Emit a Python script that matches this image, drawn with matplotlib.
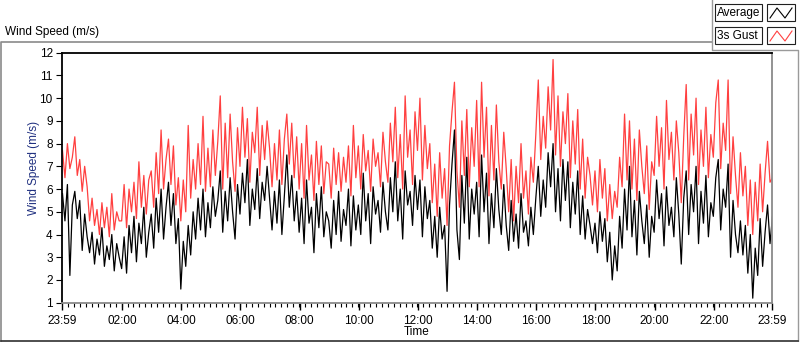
import matplotlib
matplotlib.use("Agg")
import matplotlib.pyplot as plt
import numpy as np

# wind record, one sample every 5 minutes starting at 23:59 (one row per hour)
sample_step = 5
avg_speed = [
    5.8, 4.6, 6.2, 2.2, 5.3, 5.9, 4.7, 5.5, 3.3, 4.9, 3.9, 3.2,
    4.1, 2.7, 3.8, 3.1, 4.3, 2.6, 3.5, 2.9, 4.0, 2.4, 3.6, 3.0,
    2.5, 3.9, 2.3, 4.4, 3.2, 4.8, 2.8, 4.5, 3.6, 5.2, 3.0, 4.1,
    4.9, 3.4, 5.6, 4.1, 6.0, 3.8, 5.2, 6.3, 4.4, 5.8, 3.6, 4.7,
    1.6, 3.7, 2.6, 4.4, 3.1, 5.0, 3.8, 5.6, 4.2, 6.0, 3.9, 5.4,
    4.3, 6.1, 4.8, 5.5, 6.8, 4.1, 5.9, 4.6, 6.5, 5.0, 3.8, 6.2,
    4.9, 6.7, 5.4, 7.3, 4.4, 6.0, 5.1, 6.9, 4.7, 6.3, 5.5, 7.0,
    5.6, 4.2, 5.9, 4.5, 6.4, 4.0, 5.7, 7.5, 5.2, 6.6, 4.6, 5.9,
    4.1, 5.6, 3.6, 6.4, 4.5, 5.2, 3.2, 5.8, 4.3, 6.1, 3.9, 5.0,
    4.6, 3.4, 5.5, 4.0, 5.9, 3.7, 5.1, 4.4, 6.0, 3.5, 5.7, 4.2,
    5.3, 4.0, 6.7, 4.6, 5.8, 3.6, 6.1, 4.9, 5.5, 4.1, 6.3, 5.0,
    4.2, 6.5, 5.0, 7.2, 4.6, 6.0, 3.8, 6.8, 5.3, 5.9, 4.4, 6.6,
    5.1, 6.4, 3.9, 6.1, 4.7, 5.5, 3.4, 4.8, 3.0, 5.2, 3.8, 4.4,
    1.5, 5.3, 7.1, 8.6, 4.2, 2.9, 6.6, 4.5, 7.4, 3.8, 6.0, 4.9,
    6.3, 3.9, 7.5, 5.0, 6.7, 3.6, 5.8, 4.3, 6.9, 5.1, 4.0, 6.2,
    4.4, 3.3, 5.5, 3.7, 4.9, 3.4, 5.8, 4.1, 4.6, 3.5, 5.2, 4.0,
    5.6, 7.0, 4.8, 6.4, 5.2, 7.6, 6.1, 8.0, 5.0, 6.9, 4.6, 7.3,
    5.5, 7.2, 4.3, 6.3, 4.9, 6.8, 4.0, 5.7, 3.8, 5.1, 4.4, 3.6,
    4.5, 3.2, 5.0, 3.7, 4.7, 2.8, 4.1, 2.0, 3.5, 2.4, 4.8, 3.4,
    6.0, 4.2, 7.0, 3.9, 5.5, 3.1, 5.9, 4.6, 3.6, 5.3, 3.0, 4.8,
    4.1, 6.4, 4.7, 5.8, 3.5, 6.1, 4.4, 5.2, 3.9, 6.5, 4.9, 2.7,
    5.6, 6.8, 4.0, 6.2, 5.0, 7.0, 3.6, 5.9, 4.5, 6.6, 3.9, 5.4,
    4.8, 6.5, 7.3, 4.2, 6.0, 5.2, 7.1, 3.0, 5.5, 4.0, 3.2, 4.6,
    3.1, 4.4, 2.3, 4.0, 1.2, 3.4, 2.2, 4.7, 2.6, 4.1, 5.3, 3.6,
    4.8,
]
gust_speed = [
    7.7, 6.5, 8.0, 6.9, 7.4, 8.3, 6.6, 7.3, 5.9, 7.0, 6.1, 4.6,
    5.6, 4.4, 5.1, 4.0, 5.4, 4.3, 5.2, 3.9, 5.8, 4.2, 5.0, 4.6,
    4.6, 6.2, 4.3, 6.0, 5.0, 6.3, 4.7, 7.2, 5.2, 6.6, 4.9, 6.4,
    6.8, 5.2, 7.6, 5.8, 8.6, 6.0, 7.3, 8.2, 6.2, 7.9, 5.3, 6.5,
    4.6, 6.4, 5.0, 8.8, 5.6, 7.3, 6.0, 8.0, 6.2, 9.2, 5.9, 7.8,
    6.1, 8.6, 6.6, 8.1, 10.1, 6.0, 8.9, 6.5, 9.3, 7.2, 5.9, 8.7,
    7.0, 9.6, 7.4, 9.1, 6.3, 8.5, 7.6, 9.6, 6.6, 8.8, 7.3, 9.0,
    7.8, 6.1, 8.0, 6.4, 8.6, 6.2, 8.2, 9.3, 7.1, 8.9, 6.5, 8.3,
    6.0, 8.0, 5.6, 8.8, 6.4, 7.5, 5.5, 8.1, 6.2, 7.9, 5.8, 7.2,
    7.1, 5.6, 7.8, 6.2, 7.6, 5.9, 7.4, 6.3, 7.9, 5.7, 8.8, 6.5,
    7.9, 6.0, 8.4, 6.8, 7.7, 5.9, 8.2, 7.0, 7.6, 6.1, 8.5, 7.2,
    6.3, 8.9, 7.2, 9.6, 6.5, 8.4, 6.0, 10.1, 7.4, 8.6, 6.2, 9.4,
    7.7, 10.0, 6.4, 8.8, 6.9, 8.0, 5.4, 7.1, 4.8, 7.6, 5.6, 6.9,
    4.4, 7.9, 9.4, 10.7, 6.8, 5.2, 9.0, 6.6, 9.5, 6.1, 8.7, 7.0,
    9.9, 6.1, 10.7, 7.4, 9.6, 5.7, 8.8, 6.4, 9.7, 7.2, 6.0, 8.5,
    6.9, 5.0, 7.3, 4.6, 7.0, 5.4, 8.0, 5.6, 6.8, 4.9, 7.4, 6.3,
    8.4, 10.8, 7.3, 9.2, 7.8, 10.5, 8.6, 11.7, 7.5, 10.1, 7.0, 9.4,
    8.0, 10.2, 6.5, 9.0, 7.1, 9.5, 6.0, 8.2, 5.6, 7.4, 6.6, 5.3,
    6.8, 5.0, 7.3, 5.6, 6.9, 4.6, 6.2, 4.7, 5.9, 5.2, 7.4, 6.1,
    9.3, 6.4, 9.0, 6.0, 8.2, 5.5, 8.6, 7.0, 5.8, 7.9, 5.1, 7.2,
    6.6, 9.2, 7.0, 8.7, 6.0, 9.9, 7.3, 8.5, 6.4, 9.0, 7.6, 5.4,
    8.3, 10.6, 6.4, 9.3, 7.5, 10.0, 6.2, 8.6, 7.0, 9.6, 6.5, 8.4,
    7.4, 9.8, 10.8, 6.9, 8.9, 7.7, 10.8, 5.8, 8.3, 6.6, 5.2, 7.6,
    5.7, 7.0, 4.4, 6.4, 4.0, 6.3, 4.6, 7.1, 5.0, 6.7, 8.1, 6.3,
    6.5,
]

# axis labels, minutes after the 23:59 start
tick_minutes = [0, 121, 241, 361, 481, 601, 721, 841, 961, 1081, 1201, 1321, 1440]
tick_labels = ["23:59", "02:00", "04:00", "06:00", "08:00", "10:00", "12:00",
               "14:00", "16:00", "18:00", "20:00", "22:00", "23:59"]
y_ticks = list(range(1, 13))

plt.rcParams['font.family'] = ['Liberation Sans', 'DejaVu Sans']

minutes = np.arange(len(avg_speed)) * sample_step

fig = plt.figure(figsize=(8, 3.42), dpi=100)
ax = fig.add_axes([0.0781, 0.1149, 0.8875, 0.731])

ax.plot(minutes, gust_speed, color='#ff4040', linewidth=0.9)
ax.plot(minutes, avg_speed, color='black', linewidth=0.9)

ax.set_xlim(0, 1440)
ax.set_ylim(1, 12)
ax.set_yticks(y_ticks)
ax.set_xticks(tick_minutes)
ax.set_xticklabels(tick_labels)
ax.set_xticks(np.arange(0, 1441, 12), minor=True)
ax.tick_params(axis='both', labelsize=8.5, direction='out', colors='black')
ax.tick_params(axis='y', length=4, pad=3)
ax.tick_params(axis='x', which='major', length=5, width=1, pad=4)
ax.tick_params(axis='x', which='minor', length=3, width=0.8)

ax.set_ylabel('Wind Speed (m/s)', fontsize=8.5, color='#203080')
ax.yaxis.set_label_coords(-0.032, 0.54)
ax.set_xlabel('Time', fontsize=8.5)
ax.xaxis.set_label_coords(0.499, -0.092)

for side in ['top', 'left']:
    ax.spines[side].set_color('black')
    ax.spines[side].set_linewidth(1.3)
for side in ['bottom', 'right']:
    ax.spines[side].set_color('#8a8a8a')
    ax.spines[side].set_linewidth(1.3)

# panel frame, title and legend drawn in pixel space
ov = fig.add_axes([0, 0, 1, 1], zorder=5)
ov.set_xlim(0, 800)
ov.set_ylim(342, 0)
ov.axis('off')
ov.patch.set_alpha(0)

ov.plot([0.6, 0.6, 712], [341, 42, 42], color='#8a8a8a', linewidth=1.2)
ov.plot([712, 712, 798, 798], [0, 50, 50, 341], color='#9a9a9a', linewidth=1.0)
ov.plot([0.6, 798], [341, 341], color='#303030', linewidth=1.2)

ov.text(5, 32, 'Wind Speed (m/s)', fontsize=8.5, va='center', ha='left')

legend_names = ['Average', '3s Gust']
legend_colors = ['black', '#ff4040']
for i, (name, col) in enumerate(zip(legend_names, legend_colors)):
    top = 4 + i * 23
    ov.add_patch(plt.Rectangle((715, top), 47, 17, facecolor='white',
                               edgecolor='#202020', linewidth=0.8))
    ov.add_patch(plt.Rectangle((767, top), 28, 17, facecolor='white',
                               edgecolor='#202020', linewidth=0.8))
    ov.text(717, top + 8.8, name, fontsize=8.5, va='center', ha='left')
    ov.plot([770, 777, 785, 792], [top + 14, top + 4, top + 14, top + 4],
            color=col, linewidth=0.8)

fig.savefig('out.png', dpi=100)
